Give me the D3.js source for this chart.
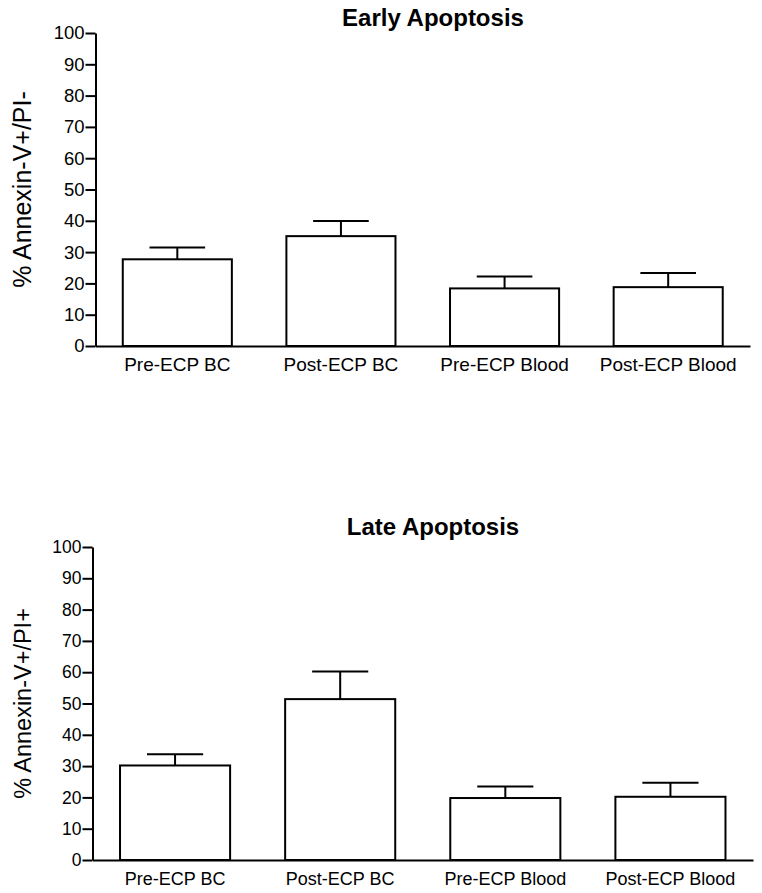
<!DOCTYPE html>
<html>
<head>
<meta charset="utf-8">
<script src="https://cdn.jsdelivr.net/npm/d3@7"></script>
<style>
  html, body { margin: 0; padding: 0; background: #fff; }
  svg { display: block; }
  text { font-family: "Liberation Sans", Arial, Helvetica, sans-serif; fill: #000; }
</style>
</head>
<body>
<svg id="chart" width="762" height="893"></svg>
<script>
const categories = ["Pre-ECP BC", "Post-ECP BC", "Pre-ECP Blood", "Post-ECP Blood"];
const earlyMeans = [27.7, 35.1, 18.4, 18.8];
const earlyErr   = [3.8, 4.8, 3.8, 4.5];
const lateMeans  = [30.2, 51.4, 19.8, 20.2];
const lateErr    = [3.6, 8.8, 3.7, 4.5];
const yTicks = [0, 10, 20, 30, 40, 50, 60, 70, 80, 90, 100];

const panels = [
  { title: "Early Apoptosis", ylabel: "% Annexin-V+/PI-", means: earlyMeans, errs: earlyErr,
    x0: 95.5, x1: 750, yTop: 33, yBot: 346, titleY: 26, tickFs: 18.5, xFs: 19, yFs: 25, ylabX: 31 },
  { title: "Late Apoptosis", ylabel: "% Annexin-V+/PI+", means: lateMeans, errs: lateErr,
    x0: 92.5, x1: 753, yTop: 547, yBot: 860, titleY: 535, tickFs: 17.5, xFs: 18, yFs: 23.5, ylabX: 31 }
];

const svg = d3.select("#chart");

panels.forEach(p => {
  const x = d3.scaleBand().domain(categories).range([p.x0, p.x1])
    .paddingInner(1/3).paddingOuter(1/6);
  const y = d3.scaleLinear().domain([0, 100]).range([p.yBot, p.yTop]);
  const g = svg.append("g");

  // bars
  const rows = categories.map((c, i) => ({ c, m: p.means[i], e: p.errs[i] }));
  // error bars
  const capW = x.bandwidth() * 0.51;
  g.selectAll("line.err").data(rows).enter().append("line")
    .attr("x1", d => x(d.c) + x.bandwidth() / 2)
    .attr("x2", d => x(d.c) + x.bandwidth() / 2)
    .attr("y1", d => y(d.m)).attr("y2", d => y(d.m + d.e))
    .attr("stroke", "#000").attr("stroke-width", 2);
  g.selectAll("line.cap").data(rows).enter().append("line")
    .attr("x1", d => x(d.c) + x.bandwidth() / 2 - capW / 2)
    .attr("x2", d => x(d.c) + x.bandwidth() / 2 + capW / 2)
    .attr("y1", d => y(d.m + d.e)).attr("y2", d => y(d.m + d.e))
    .attr("stroke", "#000").attr("stroke-width", 2);
  g.selectAll("rect.bar").data(rows).enter().append("rect")
    .attr("x", d => x(d.c)).attr("width", x.bandwidth())
    .attr("y", d => y(d.m)).attr("height", d => y(0) - y(d.m))
    .attr("fill", "#fff").attr("stroke", "#000").attr("stroke-width", 2);

  // y axis
  const ya = g.append("g").attr("transform", `translate(${p.x0},0)`)
    .call(d3.axisLeft(y).tickValues(yTicks).tickSize(10).tickSizeOuter(0).tickPadding(1));
  ya.select(".domain").attr("stroke-width", 2);
  ya.selectAll(".tick line").attr("stroke-width", 2);
  ya.selectAll(".tick text").style("font-size", p.tickFs + "px")
    .style("font-family", "'Liberation Sans', Arial, sans-serif").attr("fill", "#000");

  // x axis
  const xa = g.append("g").attr("transform", `translate(0,${p.yBot})`)
    .call(d3.axisBottom(x).tickSize(0).tickSizeOuter(0).tickPadding(12));
  xa.select(".domain").attr("stroke-width", 2);
  xa.selectAll(".tick text").style("font-size", p.xFs + "px")
    .style("font-family", "'Liberation Sans', Arial, sans-serif").attr("fill", "#000");

  // title
  g.append("text").attr("x", 433).attr("y", p.titleY).attr("text-anchor", "middle")
    .style("font-size", "24px").style("font-weight", "bold").text(p.title);

  // y label
  g.append("text")
    .attr("transform", `translate(${p.ylabX},${(p.yTop + p.yBot) / 2}) rotate(-90)`)
    .attr("text-anchor", "middle")
    .style("font-size", p.yFs + "px").text(p.ylabel);
});
</script>
</body>
</html>
